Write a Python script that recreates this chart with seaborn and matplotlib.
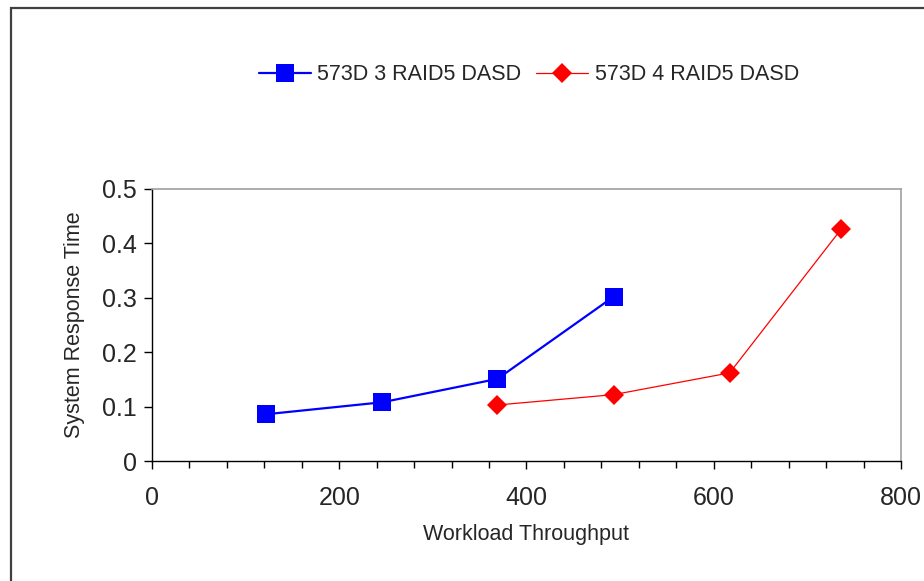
import matplotlib
matplotlib.use("Agg")
import matplotlib.pyplot as plt
import seaborn as sns
import pandas as pd
from matplotlib.patches import Rectangle
from matplotlib.ticker import MultipleLocator

# data
throughput_3 = [122, 246, 369, 493]
response_3 = [0.086, 0.108, 0.151, 0.302]
throughput_4 = [369, 493, 617, 736]
response_4 = [0.103, 0.122, 0.162, 0.426]
labels = ["573D 3 RAID5 DASD", "573D 4 RAID5 DASD"]

df3 = pd.DataFrame({"x": throughput_3, "y": response_3})
df4 = pd.DataFrame({"x": throughput_4, "y": response_4})

sns.set_style("white")
plt.rcParams['font.family'] = ['Liberation Sans', 'DejaVu Sans']

fig = plt.figure(figsize=(9.24, 5.81), dpi=100)
ax = fig.add_axes([0.1645, 0.2065, 0.9751 - 0.1645, 0.6747 - 0.2065])

sns.lineplot(data=df3, x="x", y="y", ax=ax, color="#0000ff", linewidth=1.6,
             marker="s", markersize=12.5, markeredgewidth=0, label=labels[0])
sns.lineplot(data=df4, x="x", y="y", ax=ax, color="#ff0000", linewidth=0.9,
             marker="D", markersize=10, markeredgewidth=0, label=labels[1])

ax.set_xlim(0, 800)
ax.set_ylim(0, 0.5)
ax.xaxis.set_major_locator(MultipleLocator(200))
ax.xaxis.set_minor_locator(MultipleLocator(40))
ax.set_yticks([0, 0.1, 0.2, 0.3, 0.4, 0.5])
ax.set_yticklabels(["0", "0.1", "0.2", "0.3", "0.4", "0.5"])
ax.tick_params(axis="both", which="major", direction="out", length=6, width=1,
               labelsize=18, bottom=True, left=True, color="black")
ax.tick_params(axis="x", which="major", pad=12)
ax.tick_params(axis="y", which="major", pad=5)
ax.tick_params(axis="x", which="minor", direction="out", length=5, width=1,
               bottom=True, color="black")

for side in ["left", "bottom"]:
    ax.spines[side].set_color("black")
    ax.spines[side].set_linewidth(1.0)
for side in ["top", "right"]:
    ax.spines[side].set_color("#a0a0a0")
    ax.spines[side].set_linewidth(1.2)

ax.set_xlabel("Workload Throughput", fontsize=15.5, labelpad=10)
ax.set_ylabel("System Response Time", fontsize=15.5, labelpad=12)

handles, leg_labels = ax.get_legend_handles_labels()
ax.get_legend().remove()
fig.legend(handles, leg_labels, loc="center", bbox_to_anchor=(529 / 924, 1 - 75 / 581),
           ncol=2, frameon=False, fontsize=15.5, handlelength=2.4, columnspacing=0.7,
           handletextpad=0.3)

# outer chart border
fig.patches.append(Rectangle((11 / 924, -0.05), 1.1, 1 - 8 / 581 + 0.05,
                             transform=fig.transFigure, fill=False,
                             edgecolor="#404040", linewidth=1.6))

fig.savefig("out.png", dpi=100)
